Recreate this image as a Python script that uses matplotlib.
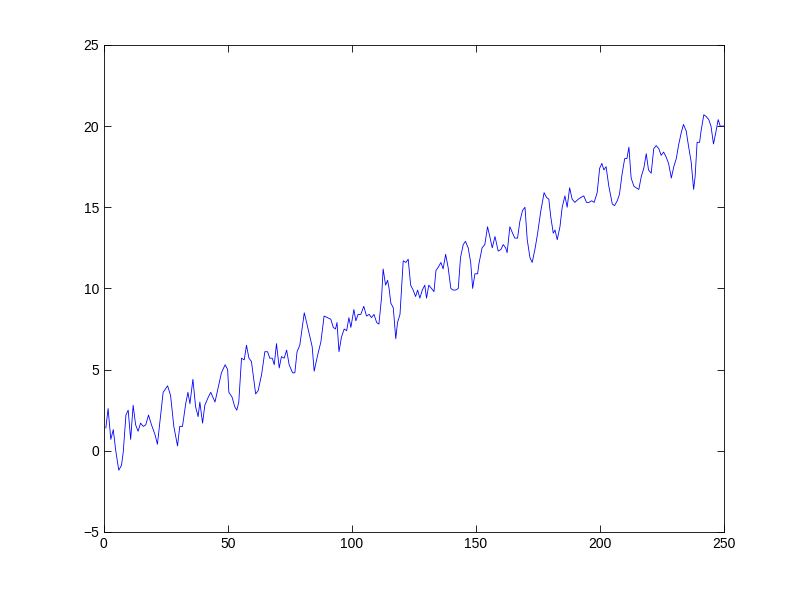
import matplotlib
matplotlib.use("Agg")
import matplotlib.pyplot as plt

# Vertices of the line (x position, value)
x_pts = [0.8, 1.7, 2.8, 3.8, 4.7, 6.0, 7.1, 7.8, 8.9, 9.8, 10.8, 11.8, 12.8, 13.8, 14.8,
         15.9, 16.9, 18.0, 19.2, 20.6, 21.6, 22.8, 23.9, 25.7, 26.9, 28.2, 29.7, 30.6, 31.7,
         33.0, 33.9, 34.7, 35.9, 37.0, 38.0, 38.7, 39.8, 40.7, 42.1, 43.1, 44.8, 46.1, 47.4,
         48.9, 49.9,
         50.4, 51.7, 52.8, 53.6, 54.4, 55.5, 56.6, 57.5, 58.5, 59.5, 61.2, 62.2, 63.6, 64.9,
         66.0, 66.9, 67.9, 68.7, 69.6, 70.7, 71.6, 72.7, 73.7, 74.7, 76.1, 77.0, 77.9, 79.0,
         80.8, 81.9, 83.1, 84.0, 84.8, 86.2, 87.5, 88.8, 90.2, 91.5, 92.5, 93.4, 94.0, 94.8,
         95.8, 96.9, 97.9, 98.8, 99.6,
         100.8, 101.6, 102.5, 103.6, 104.8, 105.9, 107.0, 107.9, 108.9, 110.0, 110.9, 112.0,
         112.6, 113.6, 114.4, 115.0, 115.7, 116.7, 117.7, 118.4, 119.4, 120.7, 121.8, 122.7,
         123.7, 124.7, 125.7, 126.5, 127.4, 128.4, 129.4, 130.1, 131.0, 132.1, 133.1, 133.9,
         134.8, 135.9, 136.8, 137.8, 138.8, 139.9, 140.8, 141.9, 142.9, 143.8, 144.9, 145.8,
         146.9, 147.9, 148.7, 149.6, 150.7,
         151.2, 152.5, 153.6, 154.7, 155.6, 156.6, 157.7, 159.0, 160.1, 161.0, 162.0, 162.6,
         163.7, 164.8, 165.7, 166.8, 167.7, 168.8, 169.8, 170.7, 171.8, 172.7, 173.8, 174.9,
         176.1, 177.5, 178.5, 179.4, 180.2, 181.2, 181.9, 182.8, 183.9, 184.8, 185.9, 186.8,
         187.8, 188.8, 189.9, 191.3, 192.3, 193.5, 194.6, 195.6, 196.7, 197.7, 198.9,
         199.9, 200.8, 201.6, 202.5, 203.6, 205.0, 205.9, 207.0, 207.9, 208.9, 210.0, 210.9,
         211.7, 212.6, 213.7, 214.6, 215.7, 216.7, 217.7, 218.7, 219.6, 220.7, 221.7, 222.7,
         223.8, 224.7, 225.7, 226.7, 227.7, 228.8, 229.8, 230.8, 231.7, 232.8, 233.7, 234.8,
         235.7, 236.8, 237.8, 238.4, 239.2, 240.2, 240.8, 241.9, 242.8, 243.9, 244.8, 245.8,
         246.6, 247.7, 248.5, 249.5, 250.0]
y_pts = [1.4, 2.6, 0.7, 1.3, 0.1, -1.2, -0.9, -0.1, 2.2, 2.5, 0.7, 2.8, 1.6, 1.2, 1.7,
         1.5, 1.6, 2.2, 1.6, 1.0, 0.4, 2.1, 3.6, 4.0, 3.4, 1.5, 0.3, 1.5, 1.5,
         2.9, 3.6, 2.9, 4.4, 2.7, 2.1, 3.0, 1.7, 2.8, 3.3, 3.6, 3.0, 3.9, 4.8,
         5.3, 5.0,
         3.6, 3.3, 2.7, 2.5, 3.0, 5.7, 5.6, 6.5, 5.7, 5.5, 3.5, 3.7, 4.7, 6.1,
         6.1, 5.7, 5.7, 5.3, 6.6, 5.1, 5.8, 5.7, 6.2, 5.3, 4.8, 4.8, 6.1, 6.5,
         8.5, 7.8, 7.0, 6.4, 4.9, 5.9, 6.7, 8.3, 8.2, 8.1, 7.6, 7.5, 7.9, 6.1,
         7.0, 7.5, 7.4, 8.2, 7.6,
         8.7, 8.0, 8.4, 8.4, 8.9, 8.3, 8.4, 8.2, 8.4, 7.9, 7.8, 9.5,
         11.2, 10.2, 10.5, 10.0, 9.1, 8.8, 6.9, 7.9, 8.4, 11.7, 11.6, 11.8,
         10.2, 9.9, 9.5, 9.9, 9.4, 9.9, 10.2, 9.4, 10.2, 10.0, 9.8, 11.1,
         11.3, 11.6, 11.2, 12.1, 11.3, 10.0, 9.9, 9.9, 10.0, 11.9, 12.7, 12.9,
         12.5, 11.6, 10.0, 10.9, 10.9,
         11.5, 12.5, 12.7, 13.8, 13.2, 12.5, 13.2, 12.3, 12.4, 12.7, 12.5, 12.2,
         13.8, 13.4, 13.1, 13.1, 14.1, 14.8, 15.0, 13.0, 11.9, 11.6, 12.4, 13.4,
         14.7, 15.9, 15.6, 15.5, 14.4, 13.4, 13.6, 13.0, 13.8, 15.0, 15.7, 15.0,
         16.2, 15.5, 15.3, 15.5, 15.6, 15.7, 15.3, 15.3, 15.4, 15.3, 15.9,
         17.4, 17.7, 17.3, 17.5, 16.3, 15.2, 15.1, 15.4, 15.8, 17.0, 18.0, 18.0,
         18.7, 16.8, 16.3, 16.2, 16.1, 16.9, 17.4, 18.3, 17.3, 17.1, 18.6, 18.8,
         18.6, 18.2, 18.4, 18.1, 17.7, 16.8, 17.5, 18.0, 18.8, 19.6, 20.1, 19.7,
         18.8, 17.8, 16.1, 16.9, 19.0, 19.0, 19.7, 20.7, 20.6, 20.4, 20.0, 18.9,
         19.5, 20.4, 20.0, 20.0, 20.0]

x_ticks = [0, 50, 100, 150, 200, 250]
y_ticks = [-5, 0, 5, 10, 15, 20, 25]

plt.rcParams['font.family'] = ['Liberation Sans', 'DejaVu Sans']

fig = plt.figure(figsize=(7.99, 5.99), dpi=100, facecolor='white')
ax = fig.add_axes([0.13, 0.112, 0.776, 0.813])
ax.plot(x_pts, y_pts, color=(0, 0, 1), linewidth=0.6)
ax.set_xlim(0, 250)
ax.set_ylim(-5, 25)
ax.set_xticks(x_ticks)
ax.set_yticks(y_ticks)
ax.tick_params(direction='in', top=True, right=True, labelsize=10, length=5, width=0.6)
for s in ax.spines.values():
    s.set_linewidth(0.6)
fig.savefig('out.png', dpi=100, facecolor='white')
